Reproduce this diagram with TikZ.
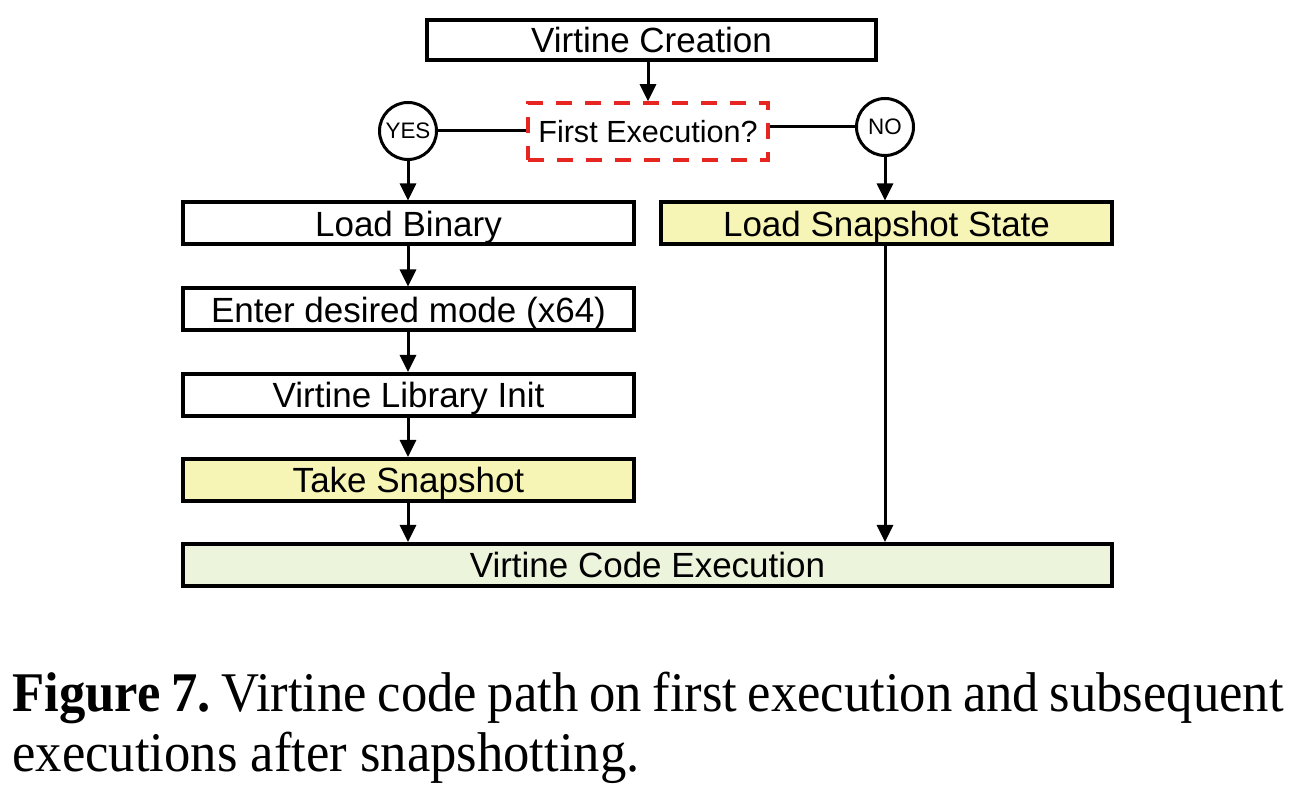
\documentclass[tikz,border=0pt]{standalone}
\usepackage{fontspec}
\setmainfont{Liberation Serif}
\newfontfamily\captionfont[FakeStretch=0.94]{Liberation Serif}
\newfontfamily\boxfont{Liberation Sans}
\usetikzlibrary{arrows.meta}
\definecolor{yellowfill}{RGB}{247,245,181}
\definecolor{greenfill}{RGB}{237,244,220}
\definecolor{dashred}{RGB}{232,38,33}
\tikzset{
  stepbox/.style={draw=black, line width=2pt, fill=white, minimum height=21pt, inner sep=0pt,
    text height=12.6pt, text depth=0pt,
    font=\boxfont\fontsize{17.5pt}{20pt}\selectfont},
  leftbox/.style={stepbox, minimum width=225.5pt},
  choice/.style={circle, draw=black, line width=1.5pt, fill=white, minimum size=28.5pt, inner sep=0pt,
    text height=8pt, text depth=0pt,
    font=\boxfont\fontsize{11.2pt}{13pt}\selectfont},
  flow/.style={line width=1.5pt, -{Triangle[width=8pt,length=8.5pt]}},
  link/.style={line width=1.5pt},
  captionline/.style={anchor=base west, inner sep=0pt, font=\captionfont\fontsize{28pt}{32pt}\selectfont\frenchspacing}
}
\begin{document}
\begin{tikzpicture}[x=0.5pt,y=-0.5pt]
\useasboundingbox (0,0) rectangle (1297,795);
\node[stepbox, minimum width=224.5pt, minimum height=20pt] (create) at (651.5,40) {Virtine Creation};
\node[draw=dashred, line width=1.75pt, dash pattern=on 8pt off 6.5pt, minimum width=120pt, minimum height=28.5pt, inner sep=0pt,
  text height=11pt, text depth=0pt,
  font=\boxfont\fontsize{15.3pt}{18pt}\selectfont] (first) at (648,131.5) {First Execution?};
\node[choice] (yes) at (408,131) {YES};
\node[choice] (no) at (885,127) {NO};
\node[leftbox] (load) at (408.5,223.5) {Load Binary};
\node[leftbox, fill=yellowfill] (snapload) at (886.5,223.5) {Load Snapshot State};
\node[leftbox] (mode) at (408.5,309.5) {Enter desired mode (x64)};
\node[leftbox] (lib) at (408.5,395) {Virtine Library Init};
\node[leftbox, fill=yellowfill] (take) at (408.5,480) {Take Snapshot};
\node[stepbox, minimum width=464.5pt, fill=greenfill] (exec) at (647.5,565) {Virtine Code Execution};

\draw[flow] (create.south -| first.north) -- (first.north);
\draw[link] (yes.east) -- (first.west |- yes.east);
\draw[link] (first.east |- no.west) -- (no.west);
\draw[flow] (yes.south) -- (load.north -| yes.south);
\draw[flow] (no.south) -- (snapload.north -| no.south);
\draw[flow] (load.south -| yes.south) -- (mode.north -| yes.south);
\draw[flow] (mode.south -| yes.south) -- (lib.north -| yes.south);
\draw[flow] (lib.south -| yes.south) -- (take.north -| yes.south);
\draw[flow] (take.south -| yes.south) -- (exec.north -| yes.south);
\draw[flow] (snapload.south -| no.south) -- (exec.north -| no.south);

\node[captionline] (cap1) at (12,712) {\spaceskip=0.19em plus 0.05em\relax\textbf{Figure 7.} Virtine code path on first execution and subsequent};
\node[captionline] (cap2) at (12,772) {executions after snapshotting.};
\end{tikzpicture}
\end{document}
